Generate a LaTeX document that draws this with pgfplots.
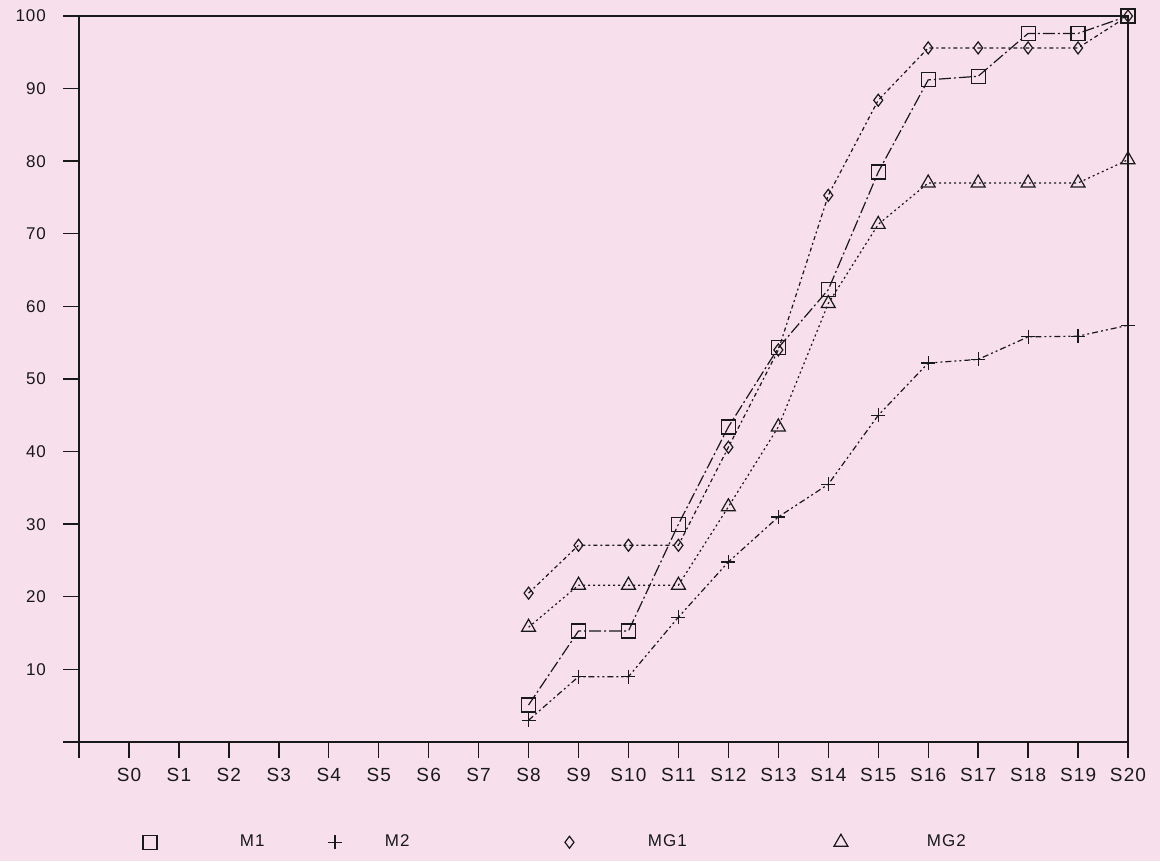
\documentclass[border=0pt]{standalone}
\usepackage{fontspec}
\setmainfont{Liberation Sans}[LetterSpace=6]
\usepackage{pgfplots}
\usepackage{pgfplotstable}
\pgfplotsset{compat=1.18}
\definecolor{bgpink}{RGB}{247,223,235}
\definecolor{ink}{RGB}{25,25,25}

\pgfplotstableread{
x  M1    M2    MG1   MG2
8  5.1   3.0   20.5  15.8
9  15.3  9.0   27.1  21.6
10 15.3  9.0   27.1  21.6
11 30.0  17.2  27.1  21.6
12 43.4  24.8  40.6  32.4
13 54.3  31.0  54.0  43.4
14 62.3  35.5  75.3  60.4
15 78.5  45.0  88.4  71.3
16 91.2  52.2  95.6  77.0
17 91.7  52.7  95.6  77.0
18 97.6  55.8  95.6  77.0
19 97.6  55.9  95.6  77.0
20 100.0 57.4  100.0 80.2
}\datatable

\begin{document}
\begin{tikzpicture}
\useasboundingbox[fill=bgpink] (0,0) rectangle (580pt,430.5pt);
\begin{axis}[
  scale only axis,
  width=524.5pt, height=363pt,
  at={(39.5pt,59.5pt)}, anchor=south west,
  xmin=-1, xmax=20, ymin=0, ymax=100,
  axis line style={line width=0.75pt, ink},
  xtick={-1,0,...,20},
  xticklabels={,S0,S1,S2,S3,S4,S5,S6,S7,S8,S9,S10,S11,S12,S13,S14,S15,S16,S17,S18,S19,S20},
  ytick={0,10,...,100},
  yticklabels={,10,20,30,40,50,60,70,80,90,100},
  xtick pos=left, ytick pos=left,
  tick align=outside, major tick length=8pt,
  tick style={line width=0.7pt, ink},
  x tick label style={font=\fontsize{9.5}{11}\selectfont, yshift=-1.5pt, text=ink},
  y tick label style={font=\fontsize{8.5}{10}\selectfont, xshift=-5pt, text=ink},
  clip=false,
  legend columns=4,
  legend style={draw=none, fill=none, at={(0.061,-0.1377)}, anchor=west,
    inner sep=0pt, outer sep=0pt, font=\fontsize{8.5}{10}\selectfont,
    nodes={inner sep=0pt, text=ink}, column sep=0pt},
  legend image code/.code={\draw[#1] plot coordinates {(0pt,0pt)};},
]
\addplot[ink, line width=0.6pt, dash pattern=on 6pt off 1.5pt on 1pt off 1.5pt,
  mark=square, mark size=3.5pt, mark options={solid, line width=0.6pt}]
  table[x=x, y=M1]{\datatable};
\addlegendentry{\makebox[85.5pt][l]{\hspace*{41.5pt}M1}}
\addplot[ink, line width=0.6pt, dash pattern=on 3pt off 1.5pt on 1pt off 1.5pt on 1pt off 1.5pt,
  mark=+, mark size=3.5pt, mark options={solid, line width=0.6pt}]
  table[x=x, y=M2]{\datatable};
\addlegendentry{\makebox[111.5pt][l]{\hspace*{21.5pt}M2}}
\addplot[ink, line width=0.6pt, dash pattern=on 2pt off 1.5pt on 1pt off 1.5pt,
  mark=diamond, mark size=3pt, mark options={solid, line width=0.6pt}]
  table[x=x, y=MG1]{\datatable};
\addlegendentry{\makebox[130pt][l]{\hspace*{37pt}MG1}}
\addplot[ink, line width=0.6pt, dash pattern=on 1pt off 1.5pt,
  mark=triangle, mark size=4pt, mark options={solid, line width=0.6pt}]
  table[x=x, y=MG2]{\datatable};
\addlegendentry{\makebox[40pt][l]{\hspace*{39.5pt}MG2}}
\end{axis}
\end{tikzpicture}
\end{document}
